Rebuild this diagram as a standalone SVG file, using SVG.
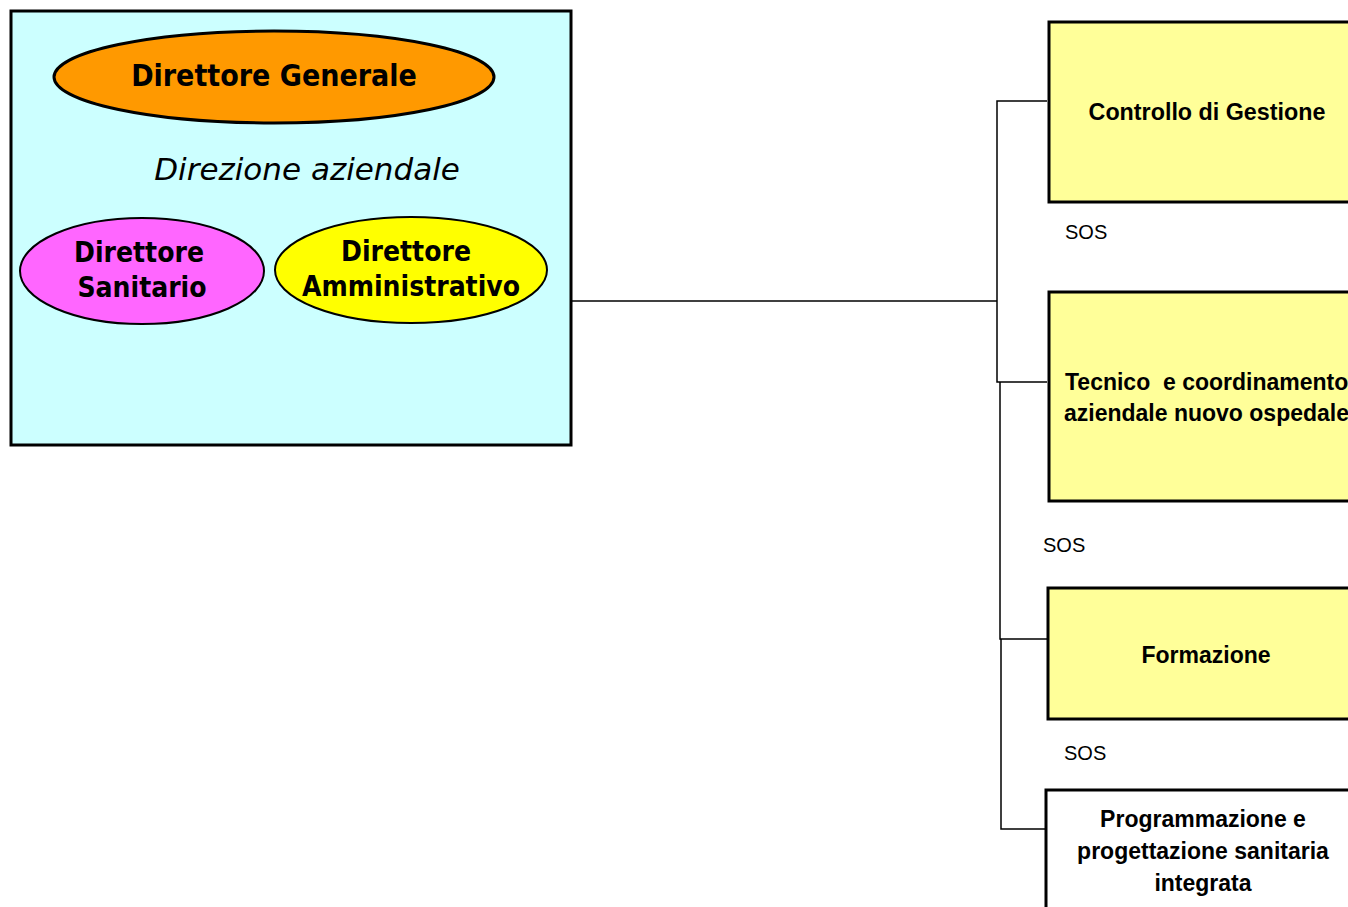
<svg xmlns="http://www.w3.org/2000/svg" width="1348" height="907" viewBox="0 0 1348 907">
<style>
.ell{stroke:#000;stroke-width:2}
.etxt{font-family:"DejaVu Sans",Verdana,sans-serif;font-stretch:condensed;font-weight:bold;font-size:28px;fill:#000;text-anchor:middle}
.box{fill:#FFFF99;stroke:#000;stroke-width:3}
.btxt{font-family:"Liberation Sans",Arial,sans-serif;font-weight:bold;font-size:23px;fill:#000;white-space:pre}
.sos{font-family:"Liberation Sans",Arial,sans-serif;font-size:20px;fill:#000}
.conn{fill:none;stroke:#000;stroke-width:1.5}
</style>
<rect width="1348" height="907" fill="#fff"/>
<g id="direzione">
<rect x="11" y="11" width="560" height="434" fill="#CCFFFF" stroke="#000" stroke-width="3"/>
<text x="307" y="180" style="font-family:'DejaVu Sans',Verdana,sans-serif;font-style:italic;font-size:31px;fill:#000;text-anchor:middle">Direzione aziendale</text>
</g>
<g id="dg">
<ellipse cx="274" cy="77" rx="220" ry="46" fill="#FF9900" class="ell" style="stroke-width:3"/>
<text x="274" y="86" class="etxt" style="font-size:30px">Direttore Generale</text>
</g>
<g id="ds">
<ellipse cx="142" cy="271" rx="122" ry="53" fill="#FF66FF" class="ell"/>
<text x="139" y="262" class="etxt">Direttore</text>
<text x="142" y="297" class="etxt">Sanitario</text>
</g>
<g id="da">
<ellipse cx="411" cy="270" rx="136" ry="53" fill="#FFFF00" class="ell"/>
<text x="406" y="261" class="etxt">Direttore</text>
<text x="411" y="296" class="etxt">Amministrativo</text>
</g>
<g id="connectors">
<polyline class="conn" points="572,301 997,301"/>
<polyline class="conn" points="1047,101 997,101 997,382 1047,382"/>
<polyline class="conn" points="1000,382 1000,639 1047,639"/>
<polyline class="conn" points="1001,639 1001,829 1045,829"/>
</g>
<g id="controllo">
<rect x="1049" y="22" width="320" height="180" class="box"/>
<text x="1207" y="120" class="btxt" text-anchor="middle" style="font-size:23.3px">Controllo di Gestione</text>
</g>
<text x="1065" y="239" class="sos">SOS</text>
<g id="tecnico">
<rect x="1049" y="292" width="320" height="209" class="box"/>
<text x="1065" y="390" class="btxt" xml:space="preserve">Tecnico  e coordinamento</text>
<text x="1064" y="421" class="btxt">aziendale nuovo ospedale</text>
</g>
<text x="1043" y="552" class="sos">SOS</text>
<g id="formazione">
<rect x="1048" y="588" width="320" height="131" class="box"/>
<text x="1206" y="663" class="btxt" text-anchor="middle">Formazione</text>
</g>
<text x="1064" y="760" class="sos">SOS</text>
<g id="programmazione">
<rect x="1046" y="790" width="320" height="140" class="box" style="fill:#fff"/>
<text x="1203" y="827" class="btxt" text-anchor="middle">Programmazione e</text>
<text x="1203" y="859" class="btxt" text-anchor="middle">progettazione sanitaria</text>
<text x="1203" y="891" class="btxt" text-anchor="middle">integrata</text>
</g>
</svg>
